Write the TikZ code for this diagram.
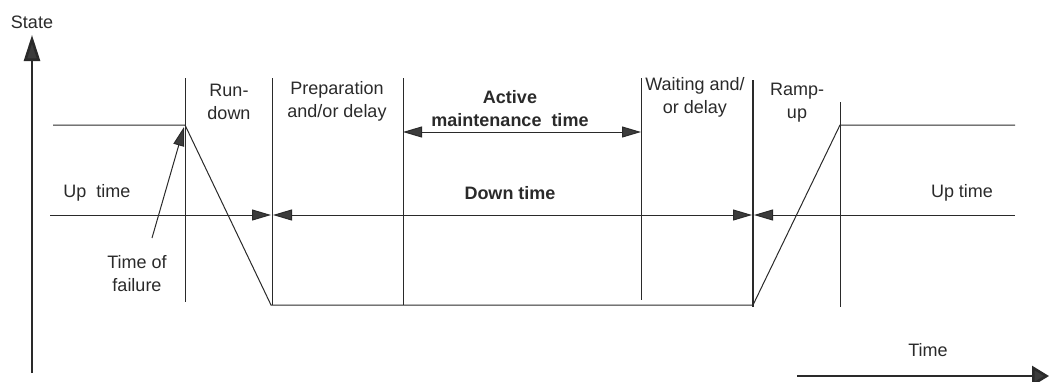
\documentclass[tikz,border=0pt]{standalone}
\usepackage{fontspec}
\setmainfont{Liberation Sans}
\usetikzlibrary{arrows.meta}
\definecolor{ink}{HTML}{2A2A2A}
\definecolor{headfill}{HTML}{3C3C3C}
\tikzset{
  lbl/.style={inner sep=0pt, align=center, font=\fontsize{18}{23}\selectfont, text=ink},
  blbl/.style={lbl, font=\fontsize{18}{23}\selectfont\bfseries},
  thin line/.style={draw=ink, line width=1pt},
  axisline/.style={draw=ink, line width=2.6pt},
  tri/.tip={Triangle[length=19pt,width=11pt,fill=headfill]},
  bigtri/.tip={Triangle[length=26pt,width=16pt,fill=headfill]},
  timetri/.tip={Triangle[length=17pt,width=20pt,fill=headfill]}
}
\begin{document}
\begin{tikzpicture}[x=1pt,y=-1pt]
\useasboundingbox (0,0) rectangle (1049,381);

% axes
\coordinate (sBot) at (32,373);
\coordinate (sTop) at (32,35);
\draw[axisline,-bigtri] (sBot) -- (sTop);
\node[lbl] (state) at (32,22) {State};
\coordinate (tL) at (797,376);
\coordinate (tR) at (1049,376);
\draw[axisline,-timetri] (tL) -- (tR);
\node[lbl] (time) at (928,350) {Time};

% state curve
\coordinate (upL) at (53,125);
\coordinate (fail) at (185,125);
\coordinate (lowL) at (271,305);
\coordinate (lowR) at (753,305);
\coordinate (back) at (840,125);
\coordinate (upR) at (1015,125);
\draw[thin line] (upL) -- (fail) -- (lowL) -- (lowR) -- (back) -- (upR);

% phase boundaries
\coordinate (v1t) at (185,78);  \coordinate (v1b) at (185,302);
\coordinate (v2t) at (272,78);  \coordinate (v2b) at (272,305);
\coordinate (v3t) at (403,78);  \coordinate (v3b) at (403,305);
\coordinate (v4t) at (641,78);  \coordinate (v4b) at (641,300);
\coordinate (v5t) at (753,80);  \coordinate (v5b) at (753,307);
\coordinate (v6t) at (840,102); \coordinate (v6b) at (840,307);
\draw[thin line] (v1t) -- (v1b);
\draw[thin line] (v2t) -- (v2b);
\draw[thin line] (v3t) -- (v3b);
\draw[thin line] (v4t) -- (v4b);
\draw[draw=ink, line width=1.8pt] (v5t) -- (v5b);
\draw[thin line] (v6t) -- (v6b);

% time-span arrows
\coordinate (uA) at (50,215);
\coordinate (uB) at (271,215);
\coordinate (dA) at (273,215);
\coordinate (dB) at (752,215);
\coordinate (uC) at (754,215);
\coordinate (uD) at (1015,215);
\draw[thin line,-tri] (uA) -- (uB);
\draw[thin line,tri-tri] (dA) -- (dB);
\draw[thin line,tri-] (uC) -- (uD);
\coordinate (aA) at (403,132);
\coordinate (aB) at (641,132);
\draw[thin line,tri-tri] (aA) -- (aB);

% failure pointer
\coordinate (fTail) at (152,238);
\coordinate (fTip) at (184,127);
\draw[thin line,-tri] (fTail) -- (fTip);

% labels
\node[lbl] (rundown) at (229,102) {Run-\\down};
\node[lbl] (prep) at (337,101) {Preparation\\and/or delay};
\node[blbl] (active) at (510,109) {Active\\maintenance\ \ time};
\node[lbl] (wait) at (695,97) {Waiting and/\\or delay};
\node[lbl] (ramp) at (797,103) {Ramp-\\up};
\node[lbl] (upl) at (97,193) {Up\ \ time};
\node[lbl] (upr) at (962,193) {Up time};
\node[blbl] (down) at (510,193) {Down time};
\node[lbl] (tof) at (137,274) {Time of\\failure};
\end{tikzpicture}
\end{document}
